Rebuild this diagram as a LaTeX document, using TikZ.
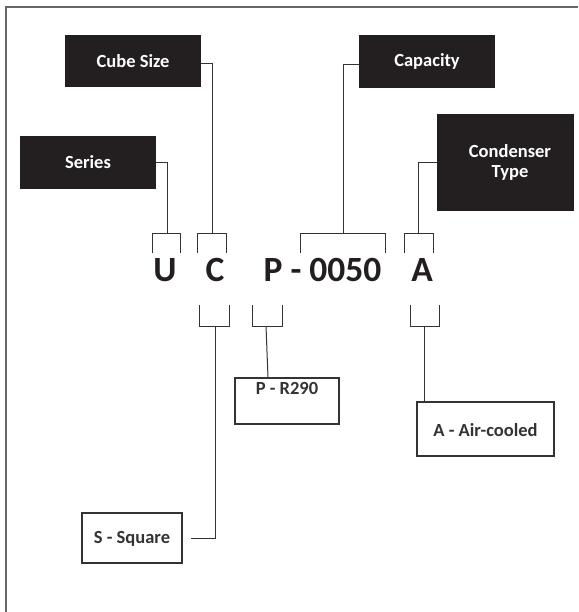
\documentclass[tikz,border=0pt]{standalone}
\usepackage{fontspec}
\setmainfont{Carlito}
\definecolor{boxblack}{HTML}{231F20}
\definecolor{ln}{HTML}{333333}
\definecolor{framec}{HTML}{666666}
\begin{document}
\begin{tikzpicture}[x=1pt,y=-1pt,
  blackbox/.style={fill=boxblack, text=white, font=\bfseries\fontsize{18.5}{20}\selectfont, align=center, inner sep=0pt},
  whitebox/.style={draw=ln, line width=1.1pt, fill=white, inner sep=0pt},
  boxtext/.style={font=\bfseries\fontsize{18.5}{20}\selectfont, text=ln, inner sep=0pt},
  conn/.style={draw=ln, line width=1pt},
  code/.style={font=\bfseries\fontsize{35.5}{36}\selectfont, text=boxblack, anchor=base, inner sep=0pt},
  frameline/.style={draw=framec, line width=1.4pt}]
\useasboundingbox (0,0) rectangle (578,612);
% frame
\draw[frameline] (6,612) -- (6,7) -- (578,7);
% black label boxes
\node[blackbox, minimum width=136pt, minimum height=52pt] (cube) at (133,61) {Cube Size};
\node[blackbox, minimum width=136pt, minimum height=53pt] (capacity) at (427,61.5) {Capacity};
\node[blackbox, minimum width=136pt, minimum height=53pt] (series) at (88,162.5) {Series};
\node[blackbox, minimum width=137pt, minimum height=97pt] (condenser) at (505.5,162.5) {\hspace*{9pt}Condenser\\\hspace*{9pt}Type};
% code letters
\node[code] (u) at (165,281) {U};
\node[code] (c) at (215,281) {C};
\node[code] (p) at (322.5,281) {P - 0050};
\node[code] (a) at (422,281) {A};
% upper brackets
\draw[conn] (152,253) -- (152,233) -- (180,233) -- (180,253);
\draw[conn] (197,253) -- (197,233) -- (226,233) -- (226,253);
\draw[conn] (300,253) -- (300,233) -- (385,233) -- (385,253);
\draw[conn] (404,253) -- (404,233) -- (433,233) -- (433,253);
\coordinate (uS) at (167,233);
\coordinate (cS) at (212,233);
\coordinate (pS) at (343,233);
\coordinate (aS) at (418,233);
\draw[conn] (series.east) -| (uS);
\draw[conn] ([yshift=-3pt]cube.east) -| (cS);
\draw[conn] ([yshift=-3pt]capacity.west) -| (pS);
\draw[conn] (condenser.west) -| (aS);
% lower brackets
\draw[conn] (199,305) -- (199,326) -- (229,326) -- (229,305);
\draw[conn] (252,305) -- (252,326) -- (282,326) -- (282,305);
\draw[conn] (410,305) -- (410,326) -- (439,326) -- (439,305);
\coordinate (cL) at (215,326);
\coordinate (pL) at (266,326);
\coordinate (aL) at (424,326);
% white option boxes
\node[whitebox, minimum width=104pt, minimum height=46pt] (r290) at (287,401) {};
\node[boxtext] (r290t) at (287,388) {P - R290};
\node[whitebox, minimum width=137pt, minimum height=54pt] (air) at (485.5,429) {};
\node[boxtext] (airt) at (485.5,430) {A - Air-cooled};
\node[whitebox, minimum width=100pt, minimum height=50pt] (square) at (132,538) {};
\node[boxtext] (squaret) at (132,539) {S - Square};
\draw[conn] (pL) -- ([xshift=-19pt]r290.north);
\draw[conn] (aL) -- (aL |- air.north);
\draw[conn] (cL) |- ([xshift=8pt]square.east);
\end{tikzpicture}
\end{document}
